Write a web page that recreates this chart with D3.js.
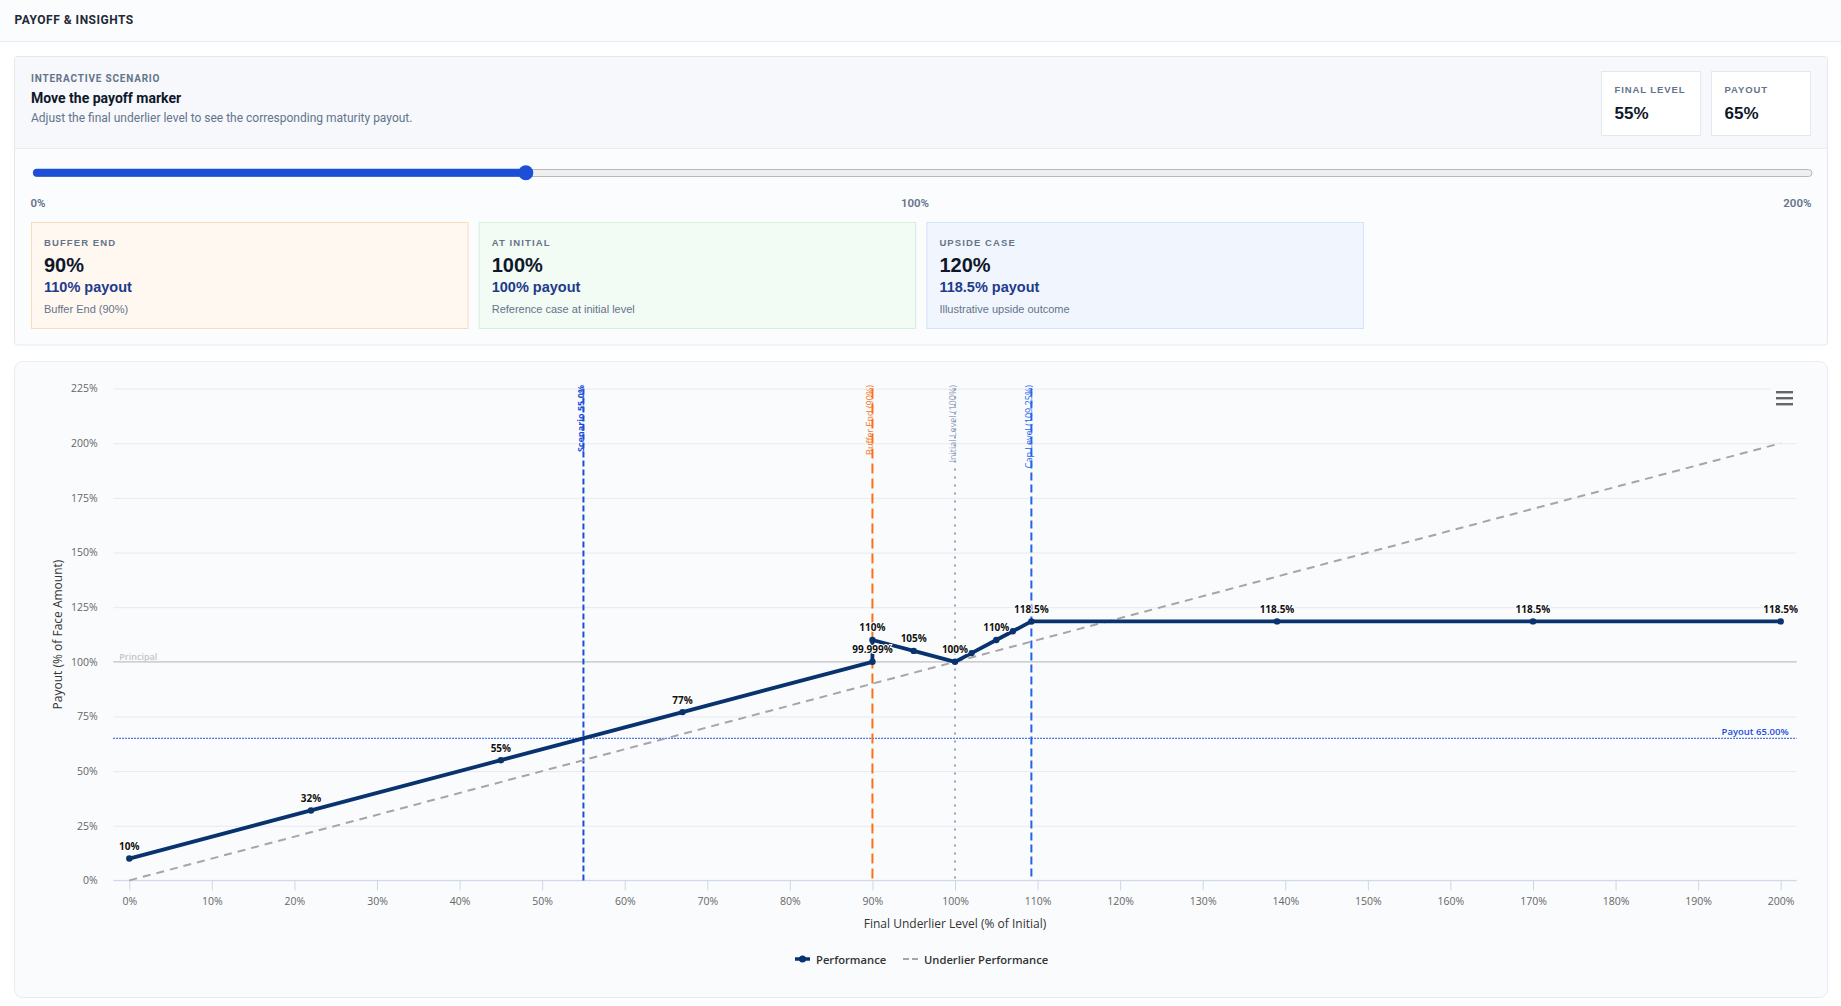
<!DOCTYPE html>
<html>
<head>
<meta charset="utf-8">
<script src="https://cdn.jsdelivr.net/npm/d3@7"></script>
<style>
  body { margin: 0; background: #fff; }
  svg text { font-family: "Open Sans", Arial, sans-serif; }
  .ui { font-family: Roboto, Arial, sans-serif !important; }
  .ar { font-family: "Liberation Sans", Arial, sans-serif !important; }
</style>
</head>
<body>
<script>
// scenario values
const finalLevel = 55;
const finalPayout = 65;
const sliderTicks = [0, 100, 200];

// scenario cards
const cardTitles = ["BUFFER END", "AT INITIAL", "UPSIDE CASE"];
const cardLevels = [90, 100, 120];
const cardPayouts = [110, 100, 118.5];
const cardNotes = ["Buffer End (90%)", "Reference case at initial level", "Illustrative upside outcome"];

// payoff series
const perfX = [0, 22, 45, 67, 90, 90, 95, 100, 102, 105, 107, 109.25, 139, 170, 200];
const perfY = [10, 32, 55, 77, 99.999, 110, 105, 100, 104, 110, 114, 118.5, 118.5, 118.5, 118.5];
const perfLabels = ["10%", "32%", "55%", "77%", "99.999%", "110%", "105%", "100%", "", "110%", "", "118.5%", "118.5%", "118.5%", "118.5%"];
const underlierX = [0, 200];
const underlierY = [0, 200];

// axes
const xTickValues = [0, 10, 20, 30, 40, 50, 60, 70, 80, 90, 100, 110, 120, 130, 140, 150, 160, 170, 180, 190, 200];
const yTickValues = [0, 25, 50, 75, 100, 125, 150, 175, 200, 225];

// vertical markers
const markerNames = ["Scenario 55.0%", "Buffer End (90%)", "Initial Level (100%)", "Cap Level (109.25%)"];
const markerValues = [55, 90, 100, 109.25];

const W = 1841, H = 1006;
const svg = d3.select("body").append("svg")
  .attr("width", W).attr("height", H)
  .style("display", "block");

// ---- page header
svg.append("rect").attr("x", 0).attr("y", 0).attr("width", W).attr("height", 41).attr("fill", "#fbfcfd");
svg.append("line").attr("x1", 0).attr("x2", W).attr("y1", 41.5).attr("y2", 41.5).attr("stroke", "#e6eaf0");
svg.append("text").attr("class", "ui").attr("x", 14.5).attr("y", 20).attr("dominant-baseline", "central")
  .style("font-size", "12px").style("font-weight", 700).style("letter-spacing", "0.5px")
  .attr("fill", "#1f2937").text("PAYOFF & INSIGHTS");

// ---- scenario card
const card = svg.append("g");
card.append("rect").attr("x", 14.5).attr("y", 56.5).attr("width", 1813).attr("height", 288.5)
  .attr("rx", 3).attr("fill", "#fbfcfe").attr("stroke", "#e3e8ef");
card.append("path").attr("d", "M15,148 V59 Q15,57 17,57 H1825 Q1827,57 1827,59 V148 Z").attr("fill", "#f6f8fb");
card.append("line").attr("x1", 15).attr("x2", 1827).attr("y1", 148.5).attr("y2", 148.5).attr("stroke", "#e8edf3");

card.append("text").attr("class", "ui").attr("x", 31).attr("y", 78).attr("dominant-baseline", "central")
  .style("font-size", "10px").style("font-weight", 700).style("letter-spacing", "0.8px")
  .attr("fill", "#64748b").text("INTERACTIVE SCENARIO");
card.append("text").attr("class", "ui").attr("x", 31).attr("y", 98).attr("dominant-baseline", "central")
  .style("font-size", "14px").style("font-weight", 700).attr("fill", "#0f172a").text("Move the payoff marker");
card.append("text").attr("class", "ui").attr("x", 31).attr("y", 117.5).attr("dominant-baseline", "central")
  .style("font-size", "12px").attr("fill", "#64748b")
  .text("Adjust the final underlier level to see the corresponding maturity payout.");

// stat boxes
const stats = [["FINAL LEVEL", finalLevel + "%"], ["PAYOUT", finalPayout + "%"]];
stats.forEach((s, i) => {
  const bx = 1601 + i * 110;
  card.append("rect").attr("x", bx + 0.5).attr("y", 71.5).attr("width", 99).attr("height", 64)
    .attr("fill", "#fff").attr("stroke", "#e3e8ef");
  card.append("text").attr("class", "ar").attr("x", bx + 13.5).attr("y", 89.5).attr("dominant-baseline", "central")
    .style("font-size", "9.5px").style("font-weight", 700).style("letter-spacing", "0.9px")
    .attr("fill", "#64748b").text(s[0]);
  card.append("text").attr("class", "ar").attr("x", bx + 13.5).attr("y", 113).attr("dominant-baseline", "central")
    .style("font-size", "17px").style("font-weight", 700).attr("fill", "#0f172a").text(s[1]);
});

// slider
const sx = d3.scaleLinear().domain([0, 200]).range([41, 1804]);
card.append("rect").attr("x", 33).attr("y", 169.5).attr("width", 1779).attr("height", 7).attr("rx", 3.5)
  .attr("fill", "#efefef").attr("stroke", "#b8b8b8");
card.append("rect").attr("x", 33).attr("y", 168.7).attr("width", sx(finalLevel) - 33).attr("height", 8).attr("rx", 4)
  .attr("fill", "#1c4fd5");
card.append("circle").attr("cx", sx(finalLevel)).attr("cy", 172.7).attr("r", 7.5).attr("fill", "#1c4fd5");
card.selectAll(".stick").data(sliderTicks).enter().append("text")
  .attr("class", "ui")
  .attr("x", d => d === 0 ? 30.5 : d === 200 ? 1811.5 : 915)
  .attr("y", 203).attr("dominant-baseline", "central")
  .attr("text-anchor", d => d === 0 ? "start" : d === 200 ? "end" : "middle")
  .style("font-size", "11.5px").style("font-weight", 600).attr("fill", "#64748b")
  .text(d => d + "%");

// case cards
const cardFill = ["#fff8f0", "#f2fbf4", "#f1f6fe"];
const cardStroke = ["#f8ddb8", "#d2f0da", "#d3e2fb"];
cardTitles.forEach((t, i) => {
  const cx0 = 31 + i * 447.7;
  const g = card.append("g");
  g.append("rect").attr("x", cx0 + 0.5).attr("y", 222.5).attr("width", 436.5).attr("height", 106)
    .attr("fill", cardFill[i]).attr("stroke", cardStroke[i]);
  g.append("text").attr("class", "ar").attr("x", cx0 + 13).attr("y", 242.5).attr("dominant-baseline", "central")
    .style("font-size", "9.5px").style("font-weight", 700).style("letter-spacing", "1.1px")
    .attr("fill", "#64748b").text(t);
  g.append("text").attr("class", "ar").attr("x", cx0 + 13).attr("y", 265).attr("dominant-baseline", "central")
    .style("font-size", "20px").style("font-weight", 700).attr("fill", "#0f172a").text(cardLevels[i] + "%");
  g.append("text").attr("class", "ar").attr("x", cx0 + 13).attr("y", 287).attr("dominant-baseline", "central")
    .style("font-size", "14.5px").style("font-weight", 700).attr("fill", "#1e3a8a").text(cardPayouts[i] + "% payout");
  g.append("text").attr("class", "ar").attr("x", cx0 + 13).attr("y", 309).attr("dominant-baseline", "central")
    .style("font-size", "11px").attr("fill", "#64748b").text(cardNotes[i]);
});

// ---- chart card
svg.append("rect").attr("x", 14.5).attr("y", 361.5).attr("width", 1813).attr("height", 636)
  .attr("rx", 8).attr("fill", "#fafbfd").attr("stroke", "#e8ecf2");

const plotLeft = 113.3, plotRight = 1796.7;
const x = d3.scaleLinear().domain([0, 200]).range([129.3, 1780.7]);
const y = d3.scaleLinear().domain([0, 225]).range([880.4, 388.6]);
const chart = svg.append("g");

// grid + y labels
const yAxis = chart.append("g").attr("transform", `translate(${plotLeft},0)`)
  .call(d3.axisLeft(y).tickValues(yTickValues).tickFormat(d => d + "%")
    .tickSize(-(plotRight - plotLeft)).tickPadding(15.6));
yAxis.select(".domain").remove();
yAxis.selectAll("line").attr("stroke", "#e6eaf0");
yAxis.selectAll("text").attr("fill", "#666").style("font-size", "10.5px");

// x axis
const xAxis = chart.append("g").attr("transform", `translate(0,${y(0)})`)
  .call(d3.axisBottom(x).tickValues(xTickValues).tickFormat(d => d + "%").tickSize(10).tickPadding(7.5));
xAxis.select(".domain").remove();
xAxis.selectAll("line").attr("stroke", "#ccd6eb");
xAxis.selectAll("text").attr("fill", "#666").style("font-size", "10.5px");
chart.append("line").attr("x1", plotLeft).attr("x2", plotRight).attr("y1", y(0)).attr("y2", y(0))
  .attr("stroke", "#ccd6eb");

// principal line
chart.append("line").attr("x1", plotLeft).attr("x2", plotRight).attr("y1", y(100)).attr("y2", y(100))
  .attr("stroke", "#bdbdbd");
chart.append("text").attr("x", plotLeft + 6).attr("y", y(100) - 2)
  .style("font-size", "9px").style("font-weight", 600).attr("fill", "#c4c4c4").text("Principal");

// payout line
chart.append("line").attr("x1", plotLeft).attr("x2", plotRight).attr("y1", y(finalPayout)).attr("y2", y(finalPayout))
  .attr("stroke", "#1d4ed8").attr("stroke-width", 1.2).attr("stroke-dasharray", "1.5,1.5");
chart.append("text").attr("x", 1788.6).attr("y", y(finalPayout) - 3.5).attr("text-anchor", "end")
  .style("font-size", "9.5px").style("font-weight", 600).attr("fill", "#1d4ed8")
  .text(`Payout ${finalPayout.toFixed(2)}%`);

// vertical marker lines
const markerColor = ["#1d4ed8", "#f97316", "#94a3b8", "#2563eb"];
const markerDash = ["6,3", "10,5", "2,6", "8,4"];
markerValues.forEach((v, i) => {
  chart.append("line").attr("x1", x(v)).attr("x2", x(v)).attr("y1", y(225)).attr("y2", y(0))
    .attr("stroke", markerColor[i]).attr("stroke-width", 2).attr("stroke-dasharray", markerDash[i]);
  chart.append("text")
    .attr("transform", `translate(${x(v) + 0.5},385) rotate(-90)`)
    .attr("text-anchor", "end")
    .style("font-size", "9px").style("font-weight", i === 0 ? 700 : 400)
    .attr("fill", markerColor[i]).text(markerNames[i]);
});

// underlier performance
const under = underlierX.map((d, i) => [d, underlierY[i]]);
chart.append("path").datum(under)
  .attr("d", d3.line().x(d => x(d[0])).y(d => y(d[1])))
  .attr("fill", "none").attr("stroke", "#a6a6a6").attr("stroke-width", 2).attr("stroke-dasharray", "8,6");

// performance
const perf = perfX.map((d, i) => ({ x: d, y: perfY[i], label: perfLabels[i] }));
chart.append("path").datum(perf)
  .attr("d", d3.line().x(d => x(d.x)).y(d => y(d.y)))
  .attr("fill", "none").attr("stroke", "#08336f").attr("stroke-width", 3.8).attr("stroke-linejoin", "round");
chart.selectAll(".pt").data(perf).enter().append("circle")
  .attr("cx", d => x(d.x)).attr("cy", d => y(d.y)).attr("r", 3.2).attr("fill", "#08336f");
chart.selectAll(".dl").data(perf.filter(d => d.label)).enter().append("text")
  .attr("x", d => x(d.x)).attr("y", d => y(d.y) - 8.5).attr("text-anchor", "middle")
  .style("font-size", "10px").style("font-weight", 700).attr("fill", "#111")
  .style("paint-order", "stroke").attr("stroke", "#fff").attr("stroke-width", 2)
  .text(d => d.label);

// axis titles
chart.append("text").attr("transform", `translate(57,${(y(0) + y(225)) / 2}) rotate(-90)`)
  .attr("text-anchor", "middle").attr("dominant-baseline", "central")
  .style("font-size", "12px").attr("fill", "#333").text("Payout (% of Face Amount)");
chart.append("text").attr("x", (plotLeft + plotRight) / 2).attr("y", 923).attr("dominant-baseline", "central")
  .attr("text-anchor", "middle").style("font-size", "12px").attr("fill", "#333")
  .text("Final Underlier Level (% of Initial)");

// export menu icon
chart.append("rect").attr("x", 1770).attr("y", 382).attr("width", 28).attr("height", 30).attr("fill", "#fafbfd");
[0, 6, 12].forEach(o => {
  chart.append("rect").attr("x", 1776).attr("y", 391 + o).attr("width", 17).attr("height", 2.4).attr("fill", "#666");
});

// legend
const lg = chart.append("g");
lg.append("line").attr("x1", 795).attr("x2", 810).attr("y1", 959).attr("y2", 959)
  .attr("stroke", "#08336f").attr("stroke-width", 3.5);
lg.append("circle").attr("cx", 802.5).attr("cy", 959).attr("r", 3.5).attr("fill", "#08336f");
lg.append("text").attr("x", 816).attr("y", 959).attr("dominant-baseline", "central")
  .style("font-size", "11.2px").style("font-weight", 600).attr("fill", "#333").text("Performance");
lg.append("line").attr("x1", 903).attr("x2", 919).attr("y1", 959).attr("y2", 959)
  .attr("stroke", "#a6a6a6").attr("stroke-width", 2).attr("stroke-dasharray", "6,3");
lg.append("text").attr("x", 924).attr("y", 959).attr("dominant-baseline", "central")
  .style("font-size", "11.2px").style("font-weight", 600).attr("fill", "#333").text("Underlier Performance");
</script>
</body>
</html>
